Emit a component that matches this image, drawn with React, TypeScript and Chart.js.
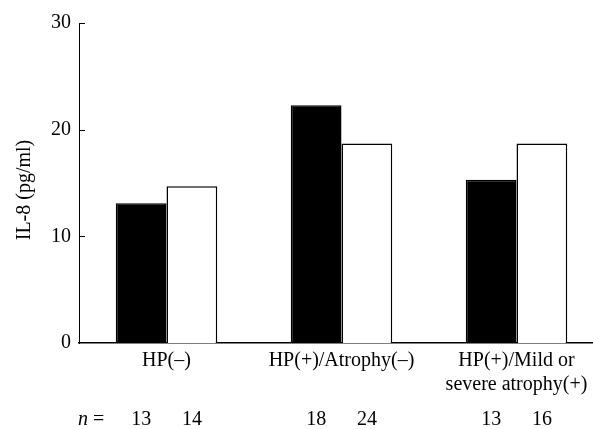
import React, { useEffect, useRef } from "react";
import { Chart, registerables } from "chart.js";

Chart.register(...registerables);

const categories: (string | string[])[] = [
  "HP(–)",
  "HP(+)/Atrophy(–)",
  ["HP(+)/Mild or", "severe atrophy(+)"],
];
const blackValues = [13.1, 22.3, 15.3];
const whiteValues = [14.7, 18.7, 18.7];
const nBlack = [13, 18, 13];
const nWhite = [14, 24, 16];
const yTicks = [0, 10, 20, 30];
const yTitle = "IL-8 (pg/ml)";

const FONT = "'Liberation Serif', 'Times New Roman', serif";

const extras = {
  id: "extras",
  afterDraw(chart: any) {
    const ctx = chart.ctx;
    const area = chart.chartArea;
    const y = chart.scales.y;
    ctx.save();
    // inward ticks
    ctx.strokeStyle = "#000";
    ctx.lineWidth = 1;
    yTicks.forEach((v) => {
      if (v === 0) return;
      const py = Math.round(y.getPixelForValue(v)) + 0.5;
      ctx.beginPath();
      ctx.moveTo(area.left, py);
      ctx.lineTo(area.left + 6, py);
      ctx.stroke();
    });
    // y title
    ctx.fillStyle = "#000";
    ctx.font = `20px ${FONT}`;
    ctx.textAlign = "center";
    ctx.textBaseline = "middle";
    ctx.save();
    ctx.translate(25, (area.top + area.bottom) / 2 + 7);
    ctx.rotate(-Math.PI / 2);
    ctx.fillText(yTitle, 0, 0);
    ctx.restore();
    // n row
    const rowY = 420;
    ctx.textAlign = "left";
    ctx.font = `italic 20px ${FONT}`;
    ctx.fillText("n", area.left - 1, rowY);
    const nw = ctx.measureText("n").width;
    ctx.font = `20px ${FONT}`;
    ctx.fillText(" =", area.left - 1 + nw, rowY);
    ctx.textAlign = "center";
    const m0 = chart.getDatasetMeta(0);
    const m1 = chart.getDatasetMeta(1);
    m0.data.forEach((el: any, i: number) => ctx.fillText(String(nBlack[i]), el.x, rowY));
    m1.data.forEach((el: any, i: number) => ctx.fillText(String(nWhite[i]), el.x, rowY));
    ctx.restore();
  },
};

export default function App() {
  const ref = useRef<HTMLCanvasElement>(null);
  useEffect(() => {
    if (!ref.current) return;
    const chart = new Chart(ref.current, {
      type: "bar",
      data: {
        labels: categories as any,
        datasets: [
          {
            label: "A",
            data: blackValues,
            backgroundColor: "#000",
            borderColor: "#000",
            borderWidth: 1.5,
            categoryPercentage: 0.58,
            barPercentage: 1,
          },
          {
            label: "B",
            data: whiteValues,
            backgroundColor: "#fff",
            borderColor: "#000",
            borderWidth: 1.5,
            categoryPercentage: 0.58,
            barPercentage: 1,
          },
        ],
      },
      options: {
        animation: false,
        responsive: false,
        layout: { padding: { left: 43, right: 16, top: 23, bottom: 26 } },
        plugins: { legend: { display: false }, tooltip: { enabled: false } },
        scales: {
          x: {
            grid: { display: false, drawTicks: false },
            border: { display: true, color: "#000", width: 1.5 },
            ticks: {
              color: "#000",
              font: { family: FONT, size: 20, lineHeight: 1.2 },
              padding: 6,
              maxRotation: 0,
              autoSkip: false,
            },
          },
          y: {
            min: 0,
            max: 30,
            grid: { display: false, drawTicks: false },
            border: { display: true, color: "#000", width: 1 },
            afterBuildTicks: (s: any) => {
              s.ticks = yTicks.map((v) => ({ value: v }));
            },
            ticks: {
              color: "#000",
              font: { family: FONT, size: 20 },
              padding: 8,
            },
          },
        },
      },
      plugins: [extras],
    });
    return () => chart.destroy();
  }, []);
  return (
    <div
      style={{
        position: "fixed",
        left: 0,
        top: 0,
        width: 593,
        height: 429,
        overflow: "hidden",
        background: "#fff",
      }}
    >
      <canvas ref={ref} width={620} height={429} style={{ display: "block" }} />
    </div>
  );
}
